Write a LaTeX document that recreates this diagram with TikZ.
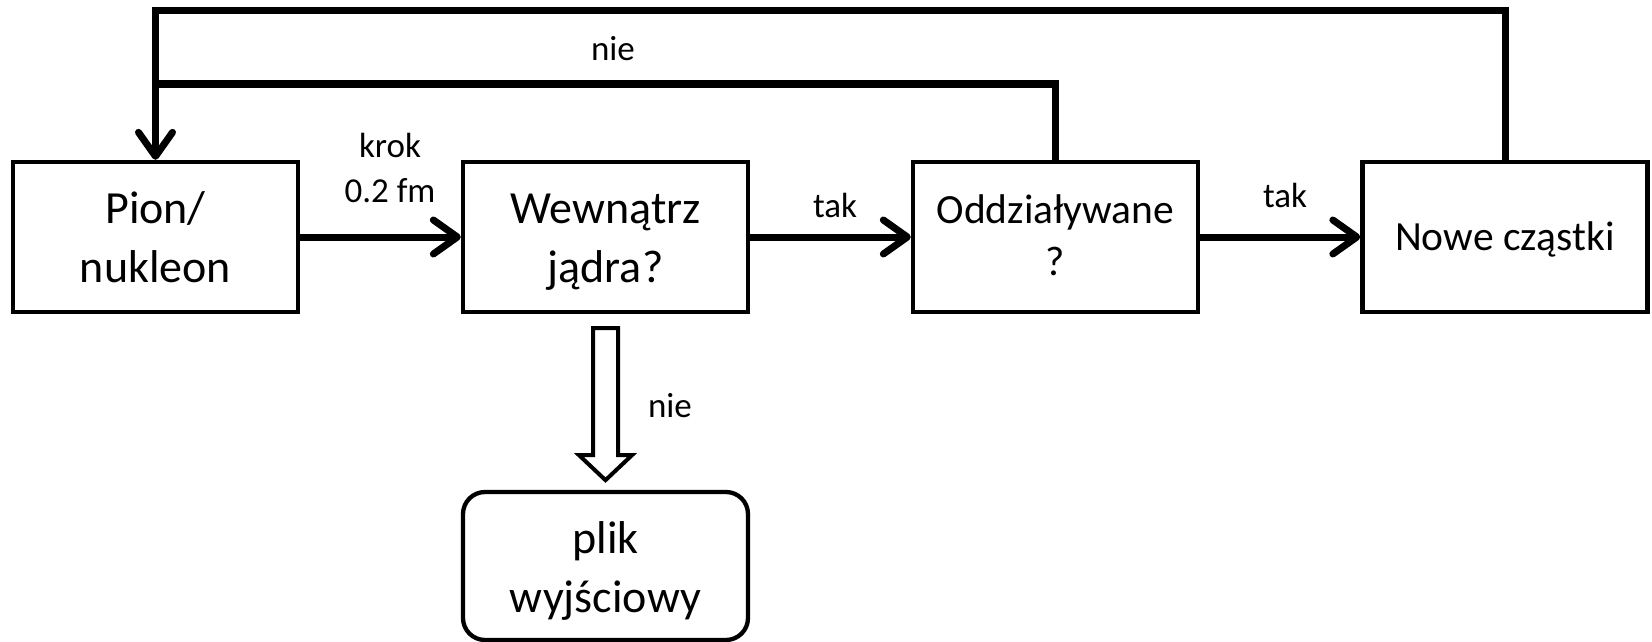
\documentclass[tikz,border=0pt]{standalone}
\usepackage{fontspec}
\setmainfont{Carlito}
\usetikzlibrary{arrows.meta,calc}
\tikzset{
  box/.style={draw, line width=4.3pt, inner sep=0pt, minimum width=285pt, minimum height=150pt},
  btext/.style={inner sep=0pt, align=center, anchor=base, font=\fontsize{46}{59}\selectfont},
  btexts/.style={btext, font=\fontsize{41.5}{52}\selectfont},
  lbl/.style={inner sep=0pt, align=center, anchor=base, font=\fontsize{35}{45}\selectfont},
  conn/.style={line width=7pt, miter limit=10},
  tip/.style={-{Straight Barb[length=24pt,width=34pt,round]}},
  hollow/.style={draw, line width=4pt, miter limit=10, fill=white},
}
\begin{document}
\begin{tikzpicture}[x=1pt,y=-1pt]
\useasboundingbox (0,0) rectangle (1652,642);
\node[box] (b1) at (155.5,237) {};
\node[box] (b2) at (605.5,237) {};
\node[box] (b3) at (1055.5,237) {};
\node[box] (b4) at (1505,237) {};
\node[box, minimum height=148pt, rounded corners=22pt] (b5) at (605.5,566) {};

% anchor=base is the baseline of the last line
\node[btext] (t1) at (155.5,282) {Pion/\\nukleon};
\node[btext] (t2) at (605.5,282) {Wewnątrz\\jądra?};
\node[btexts] (t3) at (1055.5,275) {Oddziaływane\\?};
\node[btexts] (t4) at (1505,250) {Nowe cząstki};
\node[btext] (t5) at (605.5,612) {plik\\wyjściowy};

\draw[conn,tip] (b1.east) -- (b2.west);
\draw[conn,tip] (b2.east) -- (b3.west);
\draw[conn,tip] (b3.east) -- (b4.west);

\draw[conn] (b4.north) -- (b4.north |- 0,11) -- (b1.north |- 0,11) -- (b1.north |- 0,84);
\draw[conn,tip] (b3.north) -- (b3.north |- 0,84) -- (b1.north |- 0,84) -- (b1.north);

\draw[hollow] ($(b2.south)+(-12.5,14)$) -- ($(b2.south)+(12.5,14)$) -- ($(b2.south)+(12.5,141)$)
  -- ($(b2.south)+(26.5,141)$) -- ($(b2.south)+(0,166)$) -- ($(b2.south)+(-26.5,141)$)
  -- ($(b2.south)+(-12.5,141)$) -- cycle;

\node[lbl] (lkrok) at (390,202) {krok\\0.2 fm};
\node[lbl] (ltak1) at (835,217) {tak};
\node[lbl] (ltak2) at (1285,207) {tak};
\node[lbl] (lnie1) at (613,61) {nie};
\node[lbl] (lnie2) at (670,417) {nie};
\end{tikzpicture}
\end{document}
